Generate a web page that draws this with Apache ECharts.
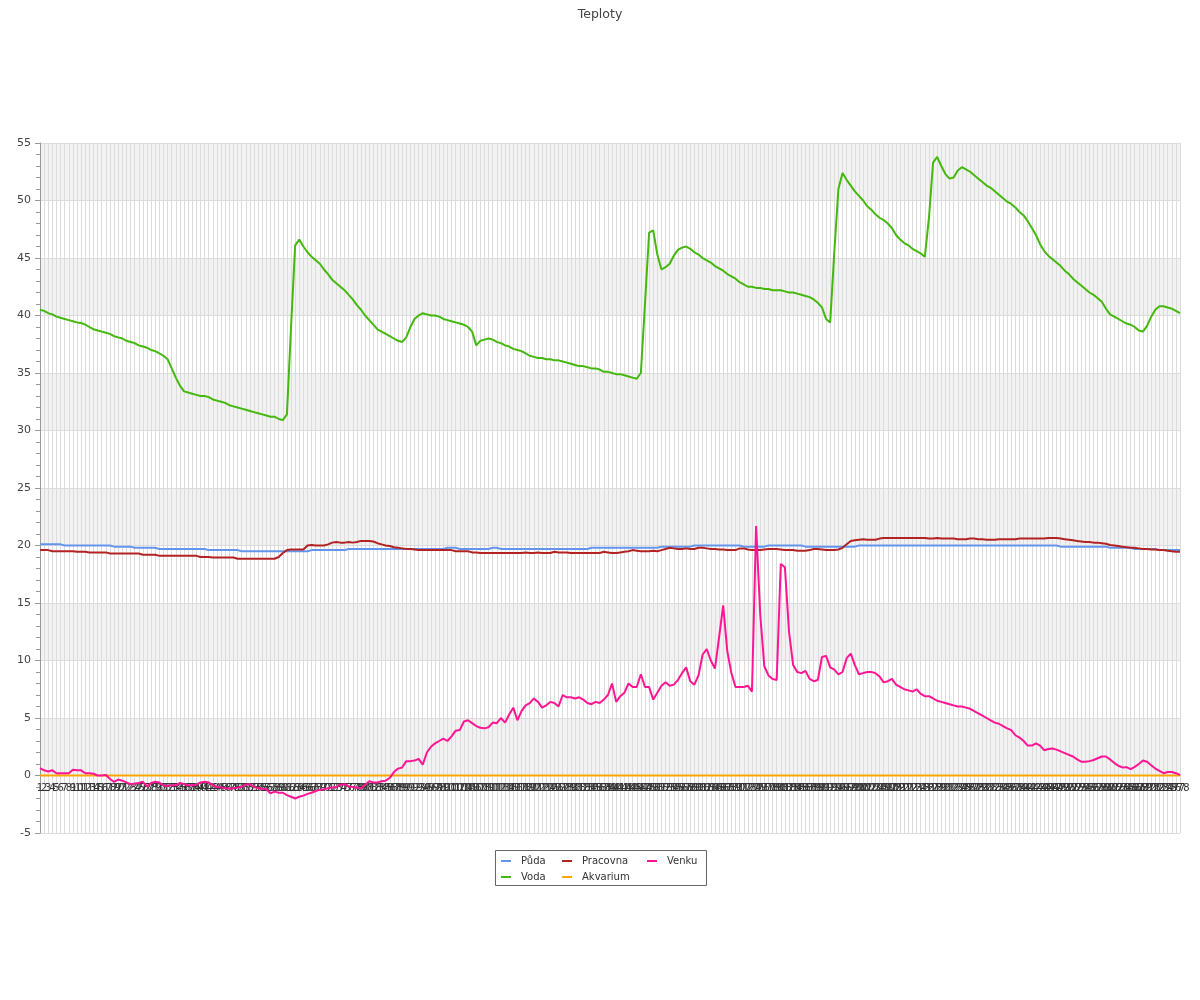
<!DOCTYPE html>
<html><head><meta charset="utf-8">
<script src="https://cdn.jsdelivr.net/npm/echarts@6/dist/echarts.min.js"></script>
<style>html,body{margin:0;padding:0;background:#fff}#c{width:1200px;height:1000px}</style>
</head><body><div id="c"></div>
<script>
var categories = [];
for (var k = 1; k <= 278; k++) categories.push(String(k));

var seriesNames = ['Půda', 'Voda', 'Pracovna', 'Akvarium', 'Venku'];

var puda = [
20.1,20.1,20.1,20.1,20.1,20.1,20.0,20.0,20.0,20.0,
20.0,20.0,20.0,20.0,20.0,20.0,20.0,20.0,19.9,
19.9,19.9,19.9,19.9,19.8,19.8,19.8,19.8,19.8,19.8,
19.7,19.7,19.7,19.7,19.7,19.7,19.7,19.7,19.7,
19.7,19.7,19.7,19.6,19.6,19.6,19.6,19.6,19.6,19.6,
19.6,19.5,19.5,19.5,19.5,19.5,19.5,19.5,19.5,19.5,
19.5,19.5,19.5,19.5,19.5,19.5,19.5,19.5,19.6,
19.6,19.6,19.6,19.6,19.6,19.6,19.6,19.6,19.7,19.7,
19.7,19.7,19.7,19.7,19.7,19.7,19.7,19.7,19.7,
19.7,19.7,19.7,19.7,19.7,19.7,19.7,19.7,19.7,19.7,
19.7,19.7,19.7,19.8,19.8,19.8,19.7,19.7,19.7,
19.7,19.7,19.7,19.7,19.7,19.8,19.8,19.7,19.7,19.7,
19.7,19.7,19.7,19.7,19.7,19.7,19.7,19.7,19.7,19.7,
19.7,19.7,19.7,19.7,19.7,19.7,19.7,19.7,19.7,
19.8,19.8,19.8,19.8,19.8,19.8,19.8,19.8,19.8,19.8,
19.8,19.8,19.8,19.8,19.8,19.8,19.8,19.9,19.9,
19.9,19.9,19.9,19.9,19.9,19.9,20.0,20.0,20.0,20.0,
20.0,20.0,20.0,20.0,20.0,20.0,20.0,20.0,19.9,19.9,
19.9,19.9,19.9,19.9,20.0,20.0,20.0,20.0,20.0,
20.0,20.0,20.0,20.0,19.9,19.9,19.9,19.9,19.9,19.9,
19.9,19.9,19.9,19.9,19.9,19.9,19.9,20.0,20.0,
20.0,20.0,20.0,20.0,20.0,20.0,20.0,20.0,20.0,20.0,
20.0,20.0,20.0,20.0,20.0,20.0,20.0,20.0,20.0,
20.0,20.0,20.0,20.0,20.0,20.0,20.0,20.0,20.0,20.0,
20.0,20.0,20.0,20.0,20.0,20.0,20.0,20.0,20.0,20.0,
20.0,20.0,20.0,20.0,20.0,20.0,20.0,20.0,19.9,
19.9,19.9,19.9,19.9,19.9,19.9,19.9,19.9,19.9,19.9,
19.9,19.8,19.8,19.8,19.8,19.8,19.8,19.7,19.7,
19.7,19.7,19.7,19.7,19.6,19.6,19.6,19.6,19.6,19.6
];

var voda = [
40.5,40.4,40.2,40.1,39.9,39.8,39.7,39.6,39.5,39.4,
39.35,39.2,39.0,38.8,38.7,38.6,38.5,38.4,38.2,
38.1,38.0,37.8,37.7,37.6,37.4,37.3,37.2,37.0,36.9,
36.7,36.5,36.2,35.4,34.6,33.9,33.4,33.3,33.2,
33.1,33.0,33.0,32.9,32.7,32.6,32.5,32.4,32.2,32.1,
32.0,31.9,31.8,31.7,31.6,31.5,31.4,31.3,31.2,31.2,
31.0,30.9,31.4,39.0,46.1,46.6,46.0,45.5,45.1,
44.8,44.5,44.0,43.6,43.1,42.8,42.5,42.2,41.8,41.4,
40.9,40.5,40.0,39.6,39.2,38.8,38.6,38.4,38.2,
38.0,37.8,37.7,38.1,39.0,39.7,40.0,40.2,40.1,40.0,
40.0,39.9,39.7,39.6,39.5,39.4,39.3,39.2,39.0,
38.6,37.4,37.8,37.9,38.0,37.9,37.7,37.6,37.4,37.3,
37.1,37.0,36.9,36.7,36.5,36.4,36.3,36.3,36.2,36.2,
36.1,36.1,36.0,35.9,35.8,35.7,35.6,35.6,35.5,
35.4,35.4,35.3,35.1,35.1,35.0,34.9,34.9,34.8,34.7,
34.6,34.5,35.0,41.0,47.2,47.4,45.3,44.0,44.2,
44.5,45.2,45.7,45.9,46.0,45.8,45.5,45.3,45.0,44.8,
44.6,44.3,44.1,43.9,43.6,43.4,43.2,42.9,42.7,42.5,
42.5,42.4,42.4,42.3,42.3,42.2,42.2,42.2,42.1,
42.0,42.0,41.9,41.8,41.7,41.6,41.4,41.1,40.7,39.7,
39.4,45.5,51.0,52.4,51.8,51.3,50.8,50.4,50.0,
49.5,49.2,48.8,48.5,48.3,48.0,47.6,47.0,46.6,46.3,
46.1,45.8,45.6,45.4,45.1,48.5,53.3,53.8,53.0,
52.3,51.9,52.0,52.6,52.9,52.7,52.5,52.2,51.9,51.6,
51.3,51.1,50.8,50.5,50.2,49.9,49.7,49.4,49.0,48.7,
48.2,47.6,47.0,46.2,45.6,45.2,44.9,44.6,44.3,
43.9,43.6,43.2,42.9,42.6,42.3,42.0,41.8,41.5,41.2,
40.6,40.1,39.9,39.7,39.5,39.3,39.2,39.0,38.7,
38.6,39.1,39.9,40.5,40.8,40.8,40.7,40.6,40.4,40.2
];

var pracovna = [
19.6,19.6,19.6,19.5,19.5,19.5,19.5,19.5,19.5,19.45,
19.45,19.45,19.4,19.4,19.4,19.4,19.4,19.3,19.3,
19.3,19.3,19.3,19.3,19.3,19.3,19.2,19.2,19.2,19.2,
19.1,19.1,19.1,19.1,19.1,19.1,19.1,19.1,19.1,
19.1,19.0,19.0,19.0,18.95,18.95,18.95,18.95,18.95,18.95,
18.85,18.85,18.85,18.85,18.85,18.85,18.85,18.85,18.85,18.85,
19.0,19.35,19.6,19.65,19.65,19.65,19.65,20.0,20.05,
20.0,20.0,20.0,20.1,20.25,20.3,20.25,20.25,20.3,20.25,
20.3,20.4,20.4,20.4,20.35,20.2,20.1,20.0,19.95,
19.85,19.8,19.75,19.7,19.7,19.65,19.6,19.6,19.6,19.6,
19.6,19.6,19.6,19.6,19.6,19.5,19.5,19.5,19.5,
19.4,19.4,19.35,19.35,19.35,19.35,19.35,19.35,19.35,19.35,
19.35,19.35,19.35,19.4,19.35,19.35,19.4,19.35,19.35,19.35,
19.45,19.4,19.4,19.4,19.35,19.35,19.35,19.35,19.35,
19.35,19.35,19.35,19.45,19.4,19.35,19.35,19.4,19.45,19.5,
19.6,19.55,19.5,19.5,19.5,19.55,19.5,19.6,19.7,
19.8,19.75,19.7,19.7,19.75,19.7,19.7,19.8,19.8,19.75,
19.7,19.7,19.65,19.65,19.6,19.6,19.6,19.75,19.75,19.65,
19.6,19.6,19.6,19.65,19.7,19.7,19.7,19.65,19.6,
19.6,19.6,19.55,19.55,19.55,19.6,19.7,19.7,19.65,19.6,
19.6,19.6,19.65,19.8,20.1,20.4,20.45,20.5,20.55,
20.5,20.5,20.5,20.6,20.65,20.65,20.65,20.65,20.65,20.65,
20.65,20.65,20.65,20.65,20.65,20.6,20.6,20.65,20.6,
20.6,20.6,20.6,20.55,20.55,20.55,20.6,20.6,20.55,20.55,
20.5,20.5,20.5,20.55,20.55,20.55,20.55,20.55,20.6,20.6,
20.6,20.6,20.6,20.6,20.6,20.65,20.65,20.65,20.6,
20.55,20.5,20.45,20.4,20.35,20.3,20.3,20.25,20.25,20.2,
20.15,20.05,20.0,19.95,19.9,19.85,19.8,19.8,19.75,
19.7,19.7,19.65,19.65,19.6,19.6,19.55,19.5,19.45,19.45
];

var akvarium = [
0,0,0,0,0,0,0,0,0,0, 0,0,0,0,0,0,0,0,0,0, 0,0,0,0,0,0,0,0,0,0,
0,0,0,0,0,0,0,0,0,0, 0,0,0,0,0,0,0,0,0,0, 0,0,0,0,0,0,0,0,0,0,
0,0,0,0,0,0,0,0,0,0, 0,0,0,0,0,0,0,0,0,0, 0,0,0,0,0,0,0,0,0,0,
0,0,0,0,0,0,0,0,0,0, 0,0,0,0,0,0,0,0,0,0, 0,0,0,0,0,0,0,0,0,0,
0,0,0,0,0,0,0,0,0,0, 0,0,0,0,0,0,0,0,0,0, 0,0,0,0,0,0,0,0,0,0,
0,0,0,0,0,0,0,0,0,0, 0,0,0,0,0,0,0,0,0,0, 0,0,0,0,0,0,0,0,0,0,
0,0,0,0,0,0,0,0,0,0, 0,0,0,0,0,0,0,0,0,0, 0,0,0,0,0,0,0,0,0,0,
0,0,0,0,0,0,0,0,0,0, 0,0,0,0,0,0,0,0,0,0, 0,0,0,0,0,0,0,0,0,0,
0,0,0,0,0,0,0,0,0,0, 0,0,0,0,0,0,0,0,0,0, 0,0,0,0,0,0,0,0,0,0,
0,0,0,0,0,0,0,0
];

var venku = [
0.65,0.45,0.35,0.45,0.2,0.2,0.2,0.2,0.5,0.45,
0.45,0.2,0.2,0.15,0.0,0.0,0.05,-0.3,-0.55,
-0.35,-0.45,-0.6,-0.75,-0.7,-0.65,-0.55,-0.95,-0.65,-0.55,
-0.6,-0.9,-0.9,-0.85,-0.85,-0.65,-0.75,-0.85,-0.85,
-0.8,-0.6,-0.55,-0.6,-0.85,-1.0,-1.05,-1.1,-1.15,-1.1,
-1.05,-1.0,-0.8,-0.75,-1.0,-1.1,-1.15,-1.2,-1.55,-1.4,
-1.5,-1.5,-1.7,-1.85,-2.0,-1.85,-1.75,-1.6,-1.5,
-1.35,-1.25,-1.2,-1.1,-1.05,-1.0,-0.8,-0.75,-0.95,-1.0,
-1.05,-1.1,-0.8,-0.5,-0.6,-0.6,-0.5,-0.45,-0.2,
0.3,0.6,0.7,1.25,1.25,1.3,1.45,0.95,2.0,2.5,
2.8,3.0,3.2,3.0,3.4,3.9,3.95,4.7,4.8,
4.55,4.3,4.15,4.1,4.2,4.6,4.55,5.0,4.6,5.3,
5.9,4.8,5.6,6.1,6.3,6.7,6.4,5.9,6.1,6.4,
6.3,6.0,7.0,6.8,6.8,6.7,6.8,6.6,6.3,
6.2,6.4,6.3,6.6,7.0,8.0,6.4,6.9,7.2,8.0,
7.7,7.7,8.8,7.7,7.7,6.6,7.2,7.8,8.1,
7.8,7.9,8.3,8.9,9.4,8.2,7.9,8.7,10.5,11.0,
10.0,9.3,12.0,14.8,10.8,8.9,7.7,7.7,7.7,7.8,
7.3,21.7,14.0,9.5,8.7,8.4,8.3,18.4,18.1,
12.5,9.6,9.0,8.9,9.1,8.4,8.2,8.3,10.3,10.4,
9.4,9.2,8.8,9.0,10.2,10.6,9.6,8.8,8.9,
9.0,9.0,8.9,8.6,8.1,8.2,8.4,7.9,7.7,7.5,
7.4,7.3,7.5,7.1,6.9,6.9,6.7,6.5,6.4,
6.3,6.2,6.1,6.0,6.0,5.9,5.8,5.6,5.4,5.2,
5.0,4.8,4.6,4.5,4.3,4.1,3.95,3.5,3.3,3.0,
2.6,2.6,2.8,2.6,2.2,2.3,2.35,2.25,2.1,
1.95,1.8,1.65,1.4,1.2,1.2,1.25,1.35,1.5,1.65,
1.65,1.4,1.1,0.85,0.7,0.72,0.55,0.75,1.0,
1.3,1.2,0.9,0.6,0.4,0.2,0.3,0.3,0.2,0.05
];

var yTicks = { min: -5, max: 55, step: 5 };
var colors = ['#6495ed', '#44b80c', '#b22222', '#ffa500', '#ff1493'];
var FONT = '"DejaVu Sans", sans-serif';

var GRID_TOP = 143, GRID_H = 690;
// distance of the zero line above the grid bottom, derived from the y range
var zeroOffset = GRID_H * (0 - yTicks.min) / (yTicks.max - yTicks.min);

var chart = echarts.init(document.getElementById('c'), null, { renderer: 'canvas' });

function mkSeries(name, data, color) {
  return {
    name: name, type: 'line', data: data, symbol: 'none', smooth: false,
    lineStyle: { width: 2, color: color }, itemStyle: { color: color },
    animation: false
  };
}

function mkLegend(names, left) {
  return {
    data: names, orient: 'vertical', left: left, top: 854,
    padding: 0, itemGap: 2, itemWidth: 10, itemHeight: 2, icon: 'rect',
    selectedMode: false,
    textStyle: { fontSize: 10, color: '#333', fontFamily: FONT, lineHeight: 14, padding: [0, 0, 0, 5] }
  };
}

chart.setOption({
  animation: false,
  backgroundColor: '#fff',
  title: {
    text: 'Teploty', left: 'center', top: 3,
    textStyle: { fontSize: 12.5, fontWeight: 'normal', color: '#444', fontFamily: FONT }
  },
  legend: [
    mkLegend([seriesNames[0], seriesNames[1]], 501),
    mkLegend([seriesNames[2], seriesNames[3]], 562),
    mkLegend([seriesNames[4]], 647)
  ],
  graphic: [{
    type: 'rect', silent: true, z: 0,
    shape: { x: 495.5, y: 850.5, width: 211, height: 35 },
    style: { fill: '#fff', stroke: '#666', lineWidth: 1 }
  }],
  grid: { left: 40, right: 20, top: GRID_TOP, height: GRID_H, containLabel: false },
  xAxis: {
    type: 'category', data: categories, boundaryGap: false,
    position: 'bottom', offset: -zeroOffset,
    axisLine: { onZero: false, lineStyle: { color: '#777', width: 1 } },
    axisTick: { show: false },
    axisLabel: { interval: 0, fontSize: 10, color: '#333', fontFamily: FONT, margin: 8 },
    splitLine: { show: true, interval: 0, lineStyle: { color: '#dcdcdc', width: 1 } }
  },
  yAxis: {
    type: 'value', min: yTicks.min, max: yTicks.max, interval: yTicks.step,
    axisLine: { show: true, lineStyle: { color: '#999' } },
    axisTick: { show: true, length: 5, lineStyle: { color: '#999' } },
    minorTick: { show: true, splitNumber: 5, length: 4, lineStyle: { color: '#999' } },
    axisLabel: { fontSize: 11, color: '#444', fontFamily: FONT, margin: 9 },
    splitLine: { show: true, lineStyle: { color: '#dcdcdc' } },
    splitArea: { show: true, areaStyle: { color: ['#ffffff', '#f2f2f2'] } }
  },
  series: [
    mkSeries(seriesNames[0], puda, colors[0]),
    mkSeries(seriesNames[1], voda, colors[1]),
    mkSeries(seriesNames[2], pracovna, colors[2]),
    mkSeries(seriesNames[3], akvarium, colors[3]),
    mkSeries(seriesNames[4], venku, colors[4])
  ]
});
</script></body></html>
